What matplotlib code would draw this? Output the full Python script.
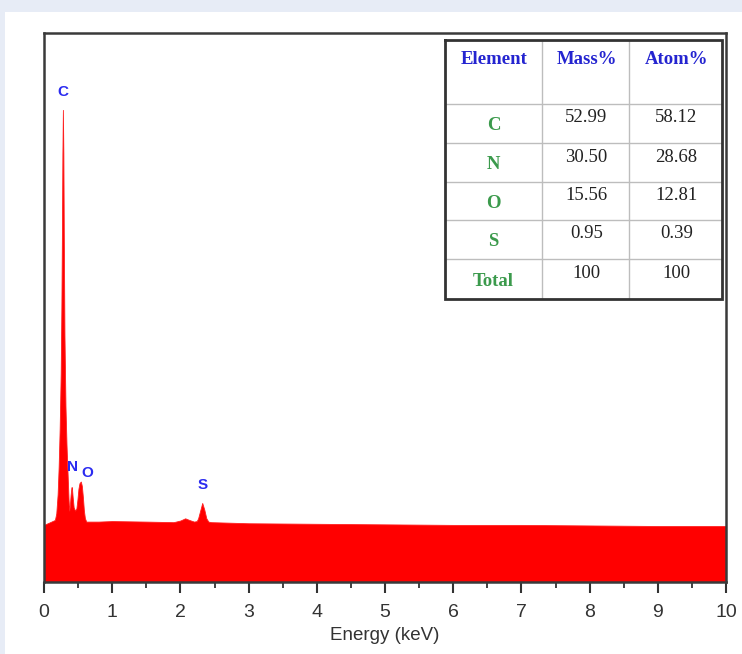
import matplotlib
matplotlib.use("Agg")
import matplotlib.pyplot as plt
from matplotlib.patches import Rectangle
from matplotlib.ticker import MultipleLocator

# ---------------- data ----------------
energy = [0.00, 0.09, 0.16, 0.18, 0.20, 0.215, 0.23, 0.245, 0.255, 0.262, 0.27,
          0.277, 0.284, 0.29, 0.30, 0.315, 0.33, 0.345, 0.36, 0.37, 0.38, 0.39,
          0.40, 0.405, 0.41, 0.42, 0.435, 0.455, 0.475, 0.49, 0.505, 0.52, 0.54,
          0.555, 0.57, 0.585, 0.60, 0.62, 0.80, 1.00, 1.50, 1.90, 2.00, 2.07,
          2.13, 2.20, 2.24, 2.26, 2.29, 2.32, 2.35, 2.38, 2.41, 2.45, 3.0, 4.0,
          5.0, 6.0, 7.0, 8.0, 9.0, 10.0]
counts = [10.4, 10.9, 11.3, 12.5, 16.0, 21.0, 28.0, 38.0, 50.0, 62.0, 78.0,
          86.0, 78.0, 64.0, 45.0, 32.0, 25.0, 20.0, 15.0, 13.0, 14.0, 15.8,
          17.0, 17.3, 17.0, 15.5, 13.6, 13.0, 13.4, 15.0, 17.0, 18.0, 18.3,
          17.5, 15.5, 13.0, 11.6, 11.0, 11.0, 11.1, 11.0, 10.9, 11.2, 11.6,
          11.3, 11.0, 11.1, 11.6, 13.0, 14.4, 13.2, 11.6, 11.0, 10.9, 10.7, 10.6,
          10.5, 10.4, 10.4, 10.3, 10.2, 10.2]

peak_labels = ["C", "N", "O", "S"]
peak_energy = [0.28, 0.425, 0.63, 2.33]
peak_height = [89.3, 21.0, 19.9, 17.7]

x_ticks = [0, 1, 2, 3, 4, 5, 6, 7, 8, 9, 10]

table_header = ["Element", "Mass%", "Atom%"]
elements = ["C", "N", "O", "S", "Total"]
mass_pct = ["52.99", "30.50", "15.56", "0.95", "100"]
atom_pct = ["58.12", "28.68", "12.81", "0.39", "100"]

# ---------------- figure ----------------
W, H = 742, 654
fig = plt.figure(figsize=(W / 100, H / 100), dpi=100, facecolor="#e7ecf6")
fig.patches.append(Rectangle((5 / W, 0), 1 - 5 / W, (H - 12) / H,
                             transform=fig.transFigure, facecolor="white",
                             edgecolor="none", zorder=-10))

def fx(px):
    return px / W

def fy(py):
    return 1 - py / H

ax = fig.add_axes([fx(44), fy(582), fx(726) - fx(44), fy(33) - fy(582)])
ax.set_zorder(1)
ax.set_facecolor("white")
ax.fill_between(energy, 0, counts, color="#ff0000", linewidth=0.6,
                edgecolor="#ff2020", zorder=2)
ax.set_xlim(0, 10)
ax.set_ylim(0, 100)
ax.set_yticks([])
ax.set_xticks(x_ticks)
ax.set_xticklabels([str(t) for t in x_ticks])
ax.xaxis.set_minor_locator(MultipleLocator(0.5))
ax.tick_params(axis="x", which="major", direction="out", length=8, width=1.5,
               color="#333333", labelsize=14, labelcolor="#333333", pad=8)
ax.tick_params(axis="x", which="minor", direction="out", length=4, width=1.3,
               color="#333333")
for s in ax.spines.values():
    s.set_color("#3a3a3a")
    s.set_linewidth(1.8)
for lbl in ax.get_xticklabels():
    lbl.set_fontfamily("Liberation Sans")
ax.set_xlabel("Energy (keV)", fontsize=13.5, color="#333333",
              fontfamily="Liberation Sans", labelpad=4)

for t, e, h in zip(peak_labels, peak_energy, peak_height):
    ax.text(e, h, t, color="#2b2bf0", fontsize=11, fontweight="bold",
            fontfamily="Liberation Sans", ha="center", va="center", zorder=3)

# ---------------- table (pixel-coordinate inset) ----------------
tl, tt, tr, tb = 445, 40, 722, 299
tax = fig.add_axes([fx(tl), fy(tb), fx(tr) - fx(tl), fy(tt) - fy(tb)])
tax.set_zorder(2)
tax.set_xlim(tl, tr)
tax.set_ylim(tb, tt)
tax.axis("off")
tax.add_patch(Rectangle((tl, tt), tr - tl, tb - tt, facecolor="white",
                        edgecolor="none", zorder=0))
col_x = [tl, 542, 629, tr]
row_y = [tt, 104, 143, 182, 220, 259, tb]
for cx in col_x[1:-1]:
    tax.plot([cx, cx], [tt, tb], color="#bdbdbd", lw=1.0, zorder=1)
for ry in row_y[1:-1]:
    tax.plot([tl, tr], [ry, ry], color="#bdbdbd", lw=1.0, zorder=1)
tax.plot([tl, tr, tr, tl, tl], [tt, tt, tb, tb, tt], color="#333333",
         lw=2.0, zorder=2, clip_on=False, solid_joinstyle="miter")

centers = [(col_x[i] + col_x[i + 1]) / 2 for i in range(3)]
serif = "Liberation Serif"
for c, h in zip(centers, table_header):
    tax.text(c + 1, 60, h, color="#2424d0", fontsize=13.5, fontweight="bold",
             fontfamily=serif, ha="center", va="center")
for i in range(len(elements)):
    top = row_y[i + 1]
    bot = row_y[i + 2]
    mid = (top + bot) / 2
    tax.text(centers[0], mid + 2, elements[i], color="#3b9a4c", fontsize=13.5,
             fontweight="bold", fontfamily=serif, ha="center", va="center")
    tax.text(centers[1] + 1, top + 14, mass_pct[i], color="#222222",
             fontsize=13.5, fontfamily=serif, ha="center", va="center")
    tax.text(centers[2] + 1, top + 14, atom_pct[i], color="#222222",
             fontsize=13.5, fontfamily=serif, ha="center", va="center")

fig.savefig("out.png", dpi=100, facecolor=fig.get_facecolor())
